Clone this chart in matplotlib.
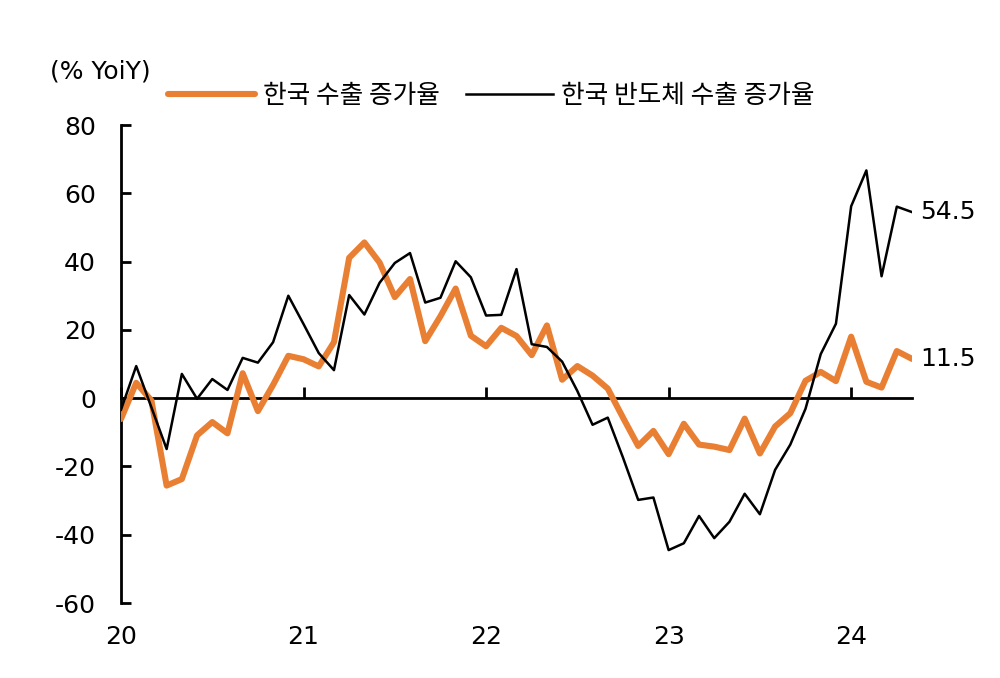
import numpy as np
import matplotlib.pyplot as plt

plt.rcParams['font.family'] = ['DejaVu Sans', 'Noto Sans CJK KR']
plt.rcParams['axes.unicode_minus'] = False

# monthly, Jan 2020 .. May 2024
exports = [-6.1, 4.5, -0.7, -25.6, -23.7, -10.9, -7.0, -10.3, 7.3, -3.8, 3.9, 12.4,
           11.4, 9.3, 16.4, 41.1, 45.6, 39.7, 29.6, 34.9, 16.7, 24.0, 32.1, 18.3,
           15.2, 20.6, 18.2, 12.6, 21.3, 5.4, 9.4, 6.6, 2.8, -5.7, -14.0, -9.6,
           -16.4, -7.5, -13.6, -14.2, -15.2, -6.0, -16.2, -8.3, -4.4, 5.1, 7.7, 5.0,
           18.0, 4.8, 3.1, 13.8, 11.5]
semis = [-3.4, 9.4, -2.7, -14.9, 7.1, -0.2, 5.6, 2.4, 11.8, 10.4, 16.4, 30.0,
         21.7, 13.2, 8.2, 30.2, 24.5, 33.8, 39.6, 42.5, 28.0, 29.4, 40.1, 35.4,
         24.2, 24.4, 37.8, 15.8, 15.0, 10.7, 2.1, -7.8, -5.7, -17.4, -29.8, -29.1,
         -44.5, -42.5, -34.5, -41.0, -36.2, -28.0, -34.0, -21.0, -13.6, -3.1, 12.9, 21.8,
         56.2, 66.7, 35.7, 56.1, 54.5]
year_labels = ['20', '21', '22', '23', '24']
y_ticks = [80, 60, 40, 20, 0, -20, -40, -60]

orange = '#E97F33'
months = np.arange(len(exports))
num_size = 18

fig = plt.figure(figsize=(10, 6.78), dpi=100)
ax = fig.add_axes([0.121, 0.1106, 0.791, 0.705])

ax.plot(months, exports, color=orange, lw=4.4, solid_capstyle='round',
        label='한국 수출 증가율', zorder=3)
ax.plot(months, semis, color='black', lw=1.8, label='한국 반도체 수출 증가율', zorder=4)

ax.set_xlim(0, len(exports) - 1)
ax.set_ylim(-60, 80)

for s in ['top', 'right']:
    ax.spines[s].set_visible(False)
ax.spines['left'].set_linewidth(2)
ax.spines['bottom'].set_position(('data', 0))
ax.spines['bottom'].set_linewidth(2)
ax.spines['bottom'].set_zorder(2)

ax.set_yticks(y_ticks)
ax.tick_params(axis='y', direction='in', length=7, width=2, pad=18, labelsize=num_size)

year_pos = [12 * i for i in range(len(year_labels))]
ax.set_xticks(year_pos)
ax.tick_params(axis='x', direction='in', length=8, width=2, labelbottom=False)

sec = ax.secondary_xaxis(0.0)
sec.set_xticks(year_pos, year_labels)
sec.spines['bottom'].set_visible(False)
sec.tick_params(length=0, pad=16, labelsize=num_size)

ax.annotate(f'{semis[-1]:.1f}', (months[-1], semis[-1]), xytext=(6, 0),
            textcoords='offset points', va='center', ha='left', fontsize=num_size)
ax.annotate(f'{exports[-1]:.1f}', (months[-1], exports[-1]), xytext=(6, 0),
            textcoords='offset points', va='center', ha='left', fontsize=num_size)

fig.text(0.05, 1 - 71 / 678, '(% YoiY)', fontsize=18, va='center', ha='left')

ax.legend(loc='center left', bbox_to_anchor=(0.168, 1 - 96 / 678),
          bbox_transform=fig.transFigure, ncol=2, frameon=False,
          prop={'family': 'Noto Sans CJK KR', 'size': 18.5},
          handlelength=3.4, handletextpad=0.3, columnspacing=1.0, borderpad=0,
          borderaxespad=0)

fig.savefig('out.png', dpi=100)
plt.close(fig)
